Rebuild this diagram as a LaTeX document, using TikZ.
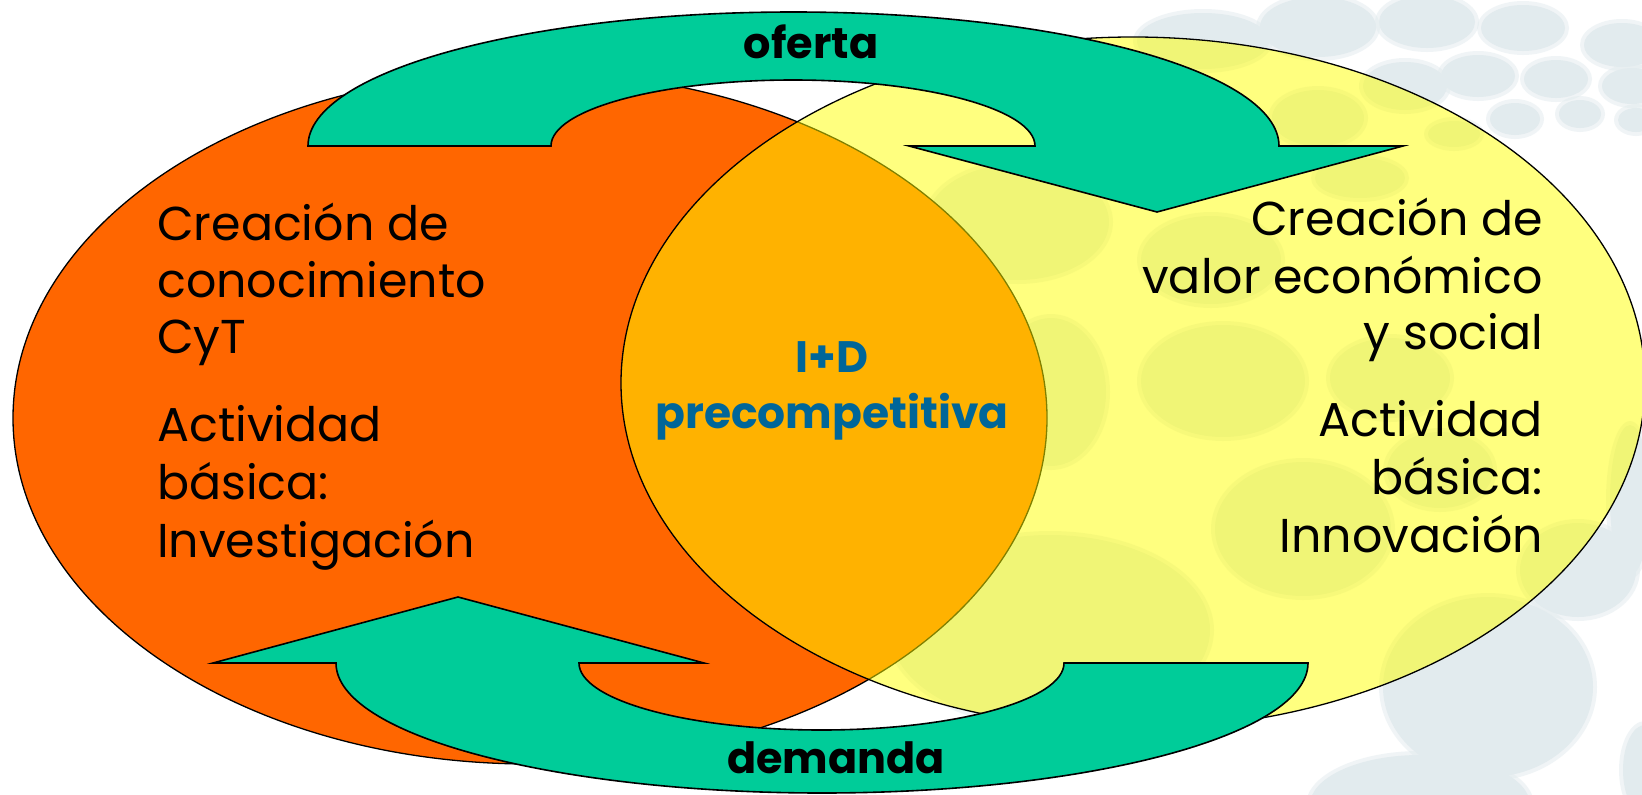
\documentclass[tikz,border=0pt]{standalone}
\usepackage{fontspec}
\setmainfont{Poppins}
\definecolor{orangeC}{HTML}{FF6600}
\definecolor{yellowC}{HTML}{FFFF00}
\definecolor{greenC}{HTML}{00CC99}
\definecolor{blueC}{HTML}{006699}
\definecolor{blobC}{HTML}{E2EBEE}
\tikzset{
  blob/.style={fill=blobC},
  blobhalo/.style={fill=blobC, fill opacity=0.5},
  bigtext/.style={font=\fontsize{47.5}{57}\selectfont, inner sep=0pt},
  midtext/.style={font=\bfseries\fontsize{44}{56}\selectfont, text=blueC, inner sep=0pt, anchor=base},
  arrowlabel/.style={font=\bfseries\fontsize{43}{46}\selectfont, inner sep=0pt, anchor=base},
  band/.style={fill=greenC, draw=black, line width=1.6pt, line join=miter},
  circ/.style={draw=black, line width=1.3pt}
}
\begin{document}
\begin{tikzpicture}[x=1pt,y=-1pt]
\useasboundingbox (0,0) rectangle (1642,795);
\fill[white] (0,0) rectangle (1642,795);
% background decoration
\foreach \cx/\cy/\rx/\ry in {
  1203/41/66/28, 1318/27/58/30, 1427/22/48/26, 1523/28/42/23, 1622/45/38/22,
  1318/118/46/28, 1405/86/42/24, 1478/76/37/21, 1556/79/32/19, 1632/86/30/18,
  1454/134/26/13, 1515/119/25/16, 1580/114/21/14, 1636/120/18/12, 1360/178/45/20,
  1018/222/91/58, 1211/260/70/44, 1223/381/82/56, 1051/392/55/74, 1390/378/60/40,
  1303/529/88/67, 1440/470/53/38, 1050/630/160/95,
  1578/570/58/47, 1488/687/105/90, 1420/805/110/50, 1645/770/22/45, 1630/500/20/75}
  {\fill[blobhalo] (\cx,\cy) ellipse [x radius=\rx pt + 4pt, y radius=\ry pt + 4pt];
   \fill[blob] (\cx,\cy) ellipse [x radius=\rx pt, y radius=\ry pt];}
% the two spheres
\draw[circ, fill=orangeC] (530,418) ellipse [x radius=517pt, y radius=346pt];
\draw[circ, fill=yellowC, fill opacity=0.5] (1133,383) ellipse [x radius=512pt, y radius=346pt];
% top arrow (oferta)
\draw[band] (308,146) arc[start angle=180, end angle=0, x radius=485.5pt, y radius=134pt]
  -- (1403,146) -- (1157,212) -- (909,146) -- (1035,146)
  arc[start angle=0, end angle=180, x radius=242pt, y radius=66pt] -- cycle;
% bottom arrow (demanda)
\draw[band] (1308,663) arc[start angle=0, end angle=-180, x radius=486pt, y radius=130pt]
  -- (213,663) -- (458,597) -- (704,663) -- (579,663)
  arc[start angle=180, end angle=360, x radius=242.5pt, y radius=67pt] -- cycle;
% labels
\node[arrowlabel] (of) at (811,58) {oferta};
\node[arrowlabel] (de) at (836,773) {demanda};
% left texts
\node[bigtext, anchor=base west] (l1) at (157,240) {Creación de};
\node[bigtext, anchor=base west] (l2) at (157,297) {conocimiento};
\node[bigtext, anchor=base west] (l3) at (157,353) {CyT};
\node[bigtext, anchor=base west] (l4) at (157,441) {Actividad};
\node[bigtext, anchor=base west] (l5) at (157,499) {básica:};
\node[bigtext, anchor=base west] (l6) at (157,557) {Investigación};
% right texts
\node[bigtext, anchor=base east] (r1) at (1543,235) {Creación de};
\node[bigtext, anchor=base east] (r2) at (1543,293) {valor económico};
\node[bigtext, anchor=base east] (r3) at (1543,349) {y social};
\node[bigtext, anchor=base east] (r4) at (1543,436) {Actividad};
\node[bigtext, anchor=base east] (r5) at (1543,494) {básica:};
\node[bigtext, anchor=base east] (r6) at (1543,552) {Innovación};
% centre
\node[midtext] (c1) at (832,372) {I+D};
\node[midtext] (c2) at (832,428) {precompetitiva};
\end{tikzpicture}
\end{document}
